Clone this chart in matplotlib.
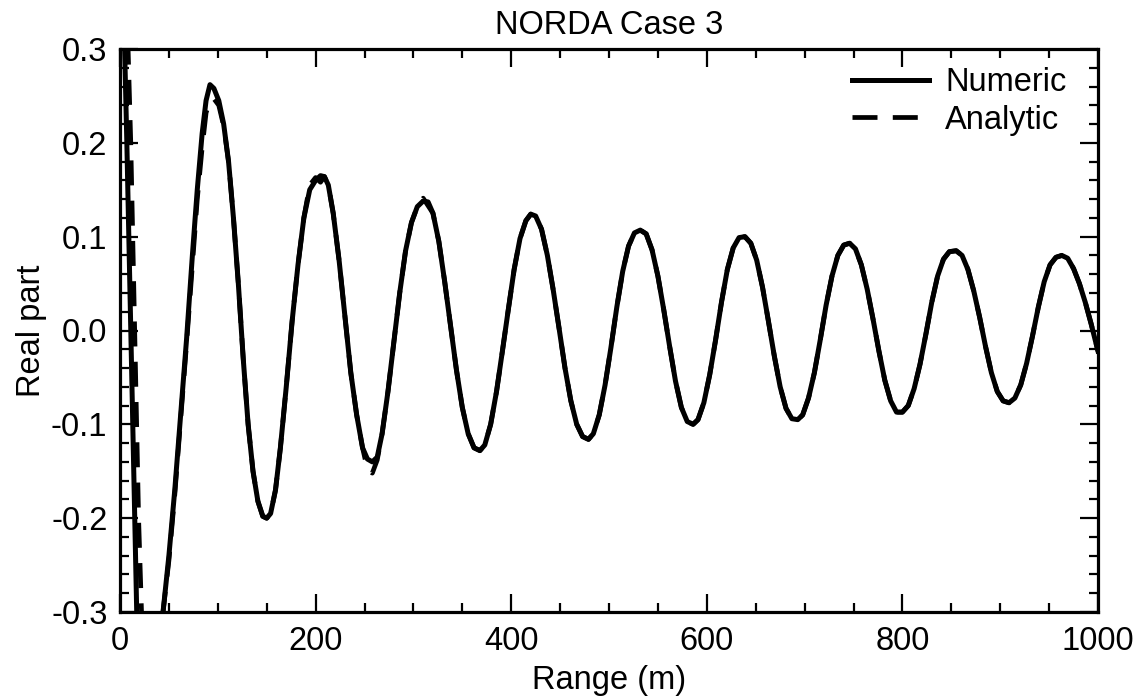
import matplotlib
matplotlib.use("Agg")
import matplotlib.pyplot as plt
from matplotlib.ticker import MultipleLocator, FormatStrFormatter

plt.rcParams['font.family'] = ['Liberation Sans', 'DejaVu Sans']
plt.rcParams['axes.unicode_minus'] = False
plt.rcParams['lines.scale_dashes'] = False

title = "NORDA Case 3"
x_label = "Range (m)"
y_label = "Real part"
series_names = ["Numeric", "Analytic"]

# values
numeric_start_range = [4.5, 7, 9, 11, 13, 15, 17, 17.5, 18, 30, 43]
numeric_start_real = [0.31, 0.2, 0.1, 0.0, -0.1, -0.2, -0.3, -0.32, -0.33, -0.6, -0.33]

main_range = [44, 50, 56, 62, 68, 74, 79, 84, 88, 92, 96, 101, 106, 111, 116, 121, 126, 131,
              136, 141, 146, 150, 154, 159, 164, 170, 176, 182, 188, 194, 200, 205, 209, 213,
              218, 224, 230, 236, 242, 248, 253, 258, 263, 268, 274, 280, 286, 292, 298, 304,
              310, 315, 320, 326, 332, 338, 344, 350, 356, 362, 368, 373, 379, 385, 391, 397,
              403, 409, 415, 420, 425, 431, 437, 443, 449, 455, 461, 467, 473, 479, 484, 490,
              496, 502, 508, 514, 520, 526, 532, 538, 544, 550, 556, 562, 568, 574, 580, 586,
              591, 597, 603, 609, 615, 621, 627, 633, 639, 645, 651, 657, 663, 669, 675, 681,
              687, 693, 698, 704, 710, 716, 722, 728, 734, 740, 746, 752, 758, 764, 770, 776,
              782, 788, 794, 800, 806, 812, 818, 824, 830, 836, 842, 848, 855, 861, 867, 873,
              879, 885, 891, 897, 903, 909, 915, 921, 927, 933, 939, 945, 951, 957, 963, 969,
              975, 981, 987, 993, 1000]

numeric_main_real = [-0.30, -0.24, -0.17, -0.09, -0.01, 0.08, 0.15, 0.21, 0.245, 0.262, 0.258,
                     0.245, 0.22, 0.18, 0.12, 0.05, -0.03, -0.10, -0.15, -0.182, -0.198, -0.20,
                     -0.195, -0.17, -0.125, -0.06, 0.01, 0.07, 0.12, 0.15, 0.16, 0.165, 0.164,
                     0.155, 0.125, 0.075, 0.015, -0.045, -0.09, -0.125, -0.137, -0.14, -0.135,
                     -0.11, -0.065, -0.012, 0.04, 0.085, 0.115, 0.132, 0.138, 0.137, 0.125,
                     0.095, 0.052, 0.005, -0.042, -0.082, -0.11, -0.125, -0.128, -0.122, -0.10,
                     -0.065, -0.022, 0.022, 0.065, 0.098, 0.117, 0.124, 0.122, 0.108, 0.08,
                     0.043, 0.002, -0.04, -0.075, -0.10, -0.113, -0.116, -0.11, -0.09, -0.058,
                     -0.018, 0.025, 0.063, 0.09, 0.104, 0.107, 0.103, 0.086, 0.058, 0.022,
                     -0.017, -0.054, -0.082, -0.097, -0.10, -0.095, -0.077, -0.047, -0.01, 0.03,
                     0.065, 0.088, 0.099, 0.10, 0.093, 0.075, 0.046, 0.01, -0.027, -0.06,
                     -0.083, -0.094, -0.095, -0.09, -0.072, -0.045, -0.01, 0.027, 0.058, 0.08,
                     0.091, 0.093, 0.087, 0.07, 0.044, 0.012, -0.022, -0.053, -0.075, -0.087,
                     -0.087, -0.08, -0.062, -0.036, -0.004, 0.03, 0.058, 0.076, 0.084, 0.085,
                     0.08, 0.065, 0.042, 0.014, -0.017, -0.045, -0.065, -0.075, -0.077, -0.072,
                     -0.058, -0.035, -0.006, 0.025, 0.052, 0.07, 0.078, 0.08, 0.077, 0.066,
                     0.05, 0.03, 0.007, -0.022]

analytic_start_range = [8, 11, 13, 15, 17, 19, 22, 23, 24, 33, 43]
analytic_start_real = [0.31, 0.2, 0.1, 0.0, -0.1, -0.2, -0.3, -0.32, -0.33, -0.6, -0.33]

analytic_main_real = [-0.30, -0.245, -0.175, -0.095, -0.015, 0.07, 0.14, 0.195, 0.232, 0.245,
                      0.247, 0.24, 0.218, 0.18, 0.12, 0.05, -0.03, -0.10, -0.15, -0.182, -0.198,
                      -0.20, -0.195, -0.17, -0.125, -0.06, 0.01, 0.07, 0.12, 0.155, 0.163, 0.158,
                      0.164, 0.155, 0.125, 0.075, 0.015, -0.045, -0.09, -0.125, -0.148, -0.152,
                      -0.138, -0.11, -0.065, -0.012, 0.04, 0.085, 0.115, 0.132, 0.141, 0.133,
                      0.125, 0.095, 0.052, 0.005, -0.042, -0.082, -0.11, -0.125, -0.128, -0.122,
                      -0.10, -0.065, -0.022, 0.022, 0.065, 0.098, 0.117, 0.124, 0.122, 0.108,
                      0.08, 0.043, 0.002, -0.04, -0.075, -0.10, -0.113, -0.116, -0.11, -0.09,
                      -0.058, -0.018, 0.025, 0.063, 0.09, 0.104, 0.107, 0.103, 0.086, 0.058,
                      0.022, -0.017, -0.054, -0.082, -0.097, -0.10, -0.095, -0.077, -0.047,
                      -0.01, 0.03, 0.065, 0.088, 0.099, 0.10, 0.093, 0.075, 0.046, 0.01, -0.027,
                      -0.06, -0.083, -0.094, -0.095, -0.09, -0.072, -0.045, -0.01, 0.027, 0.058,
                      0.08, 0.091, 0.093, 0.087, 0.07, 0.044, 0.012, -0.022, -0.053, -0.075,
                      -0.087, -0.087, -0.08, -0.062, -0.036, -0.004, 0.03, 0.058, 0.076, 0.084,
                      0.085, 0.08, 0.065, 0.042, 0.014, -0.017, -0.045, -0.065, -0.075, -0.077,
                      -0.072, -0.058, -0.035, -0.006, 0.025, 0.052, 0.07, 0.078, 0.08, 0.077,
                      0.066, 0.05, 0.03, 0.007, -0.022]

numeric_range = numeric_start_range + main_range
numeric_real = numeric_start_real + numeric_main_real
analytic_range = analytic_start_range + main_range
analytic_real = analytic_start_real + analytic_main_real

FS = 23.5
fig = plt.figure(figsize=(11.48, 6.96), dpi=100)
ax = fig.add_axes([120 / 1148, 84 / 696, 978 / 1148, 563 / 696])

ax.plot(analytic_range, analytic_real, color='black', lw=3.4, dashes=(18, 11),
        label=series_names[1], zorder=2, dash_capstyle='butt')
ax.plot(numeric_range, numeric_real, color='black', lw=3.6, label=series_names[0],
        zorder=3, solid_joinstyle='round')

ax.set_xlim(0, 1000)
ax.set_ylim(-0.3, 0.3)
ax.xaxis.set_major_locator(MultipleLocator(200))
ax.xaxis.set_minor_locator(MultipleLocator(50))
ax.yaxis.set_major_locator(MultipleLocator(0.1))
ax.yaxis.set_minor_locator(MultipleLocator(0.02))
ax.yaxis.set_major_formatter(FormatStrFormatter('%.1f'))

ax.tick_params(which='both', direction='in', top=True, right=True, width=1.6, color='black')
ax.tick_params(which='major', length=13)
ax.tick_params(which='minor', length=6.5)
ax.tick_params(axis='x', which='major', labelsize=FS, pad=10)
ax.tick_params(axis='y', which='major', labelsize=FS, pad=9)
for sp in ax.spines.values():
    sp.set_linewidth(2.3)

ax.set_title(title, fontsize=FS, pad=11)
ax.set_xlabel(x_label, fontsize=FS, labelpad=6)
ax.set_ylabel(y_label, fontsize=FS, labelpad=3)

handles, labels = ax.get_legend_handles_labels()
order = [1, 0]
ax.legend([handles[i] for i in order], [labels[i] for i in order], loc='upper right',
          bbox_to_anchor=(0.968, 0.968), frameon=False, fontsize=FS, handlelength=2.35,
          handletextpad=0.5, labelspacing=0.2, borderpad=0, borderaxespad=0)

fig.savefig('out.png', dpi=100)
